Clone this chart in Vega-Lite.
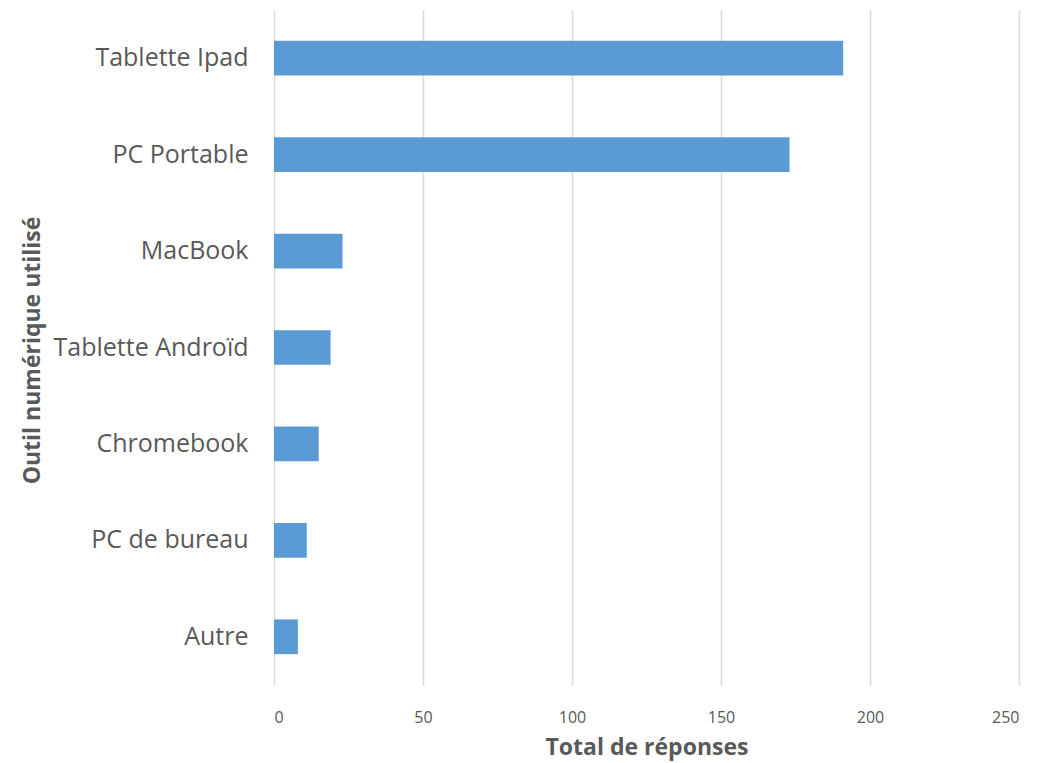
{
  "$schema": "https://vega.github.io/schema/vega-lite/v6.json",
  "width": 745,
  "height": 675,
  "autosize": "none",
  "padding": {"left": 274, "top": 10, "right": 35, "bottom": 78},
  "background": "white",
  "config": {"view": {"stroke": null}, "font": "Open Sans"},
  "data": {"values": [
    {"outil": "Tablette Ipad", "total": 191},
    {"outil": "PC Portable", "total": 173},
    {"outil": "MacBook", "total": 23},
    {"outil": "Tablette Androïd", "total": 19},
    {"outil": "Chromebook", "total": 15},
    {"outil": "PC de bureau", "total": 11},
    {"outil": "Autre", "total": 8}
  ]},
  "mark": {"type": "bar", "color": "#5B9BD5"},
  "encoding": {
    "y": {
      "field": "outil", "type": "nominal", "sort": null,
      "scale": {"paddingInner": 0.64, "paddingOuter": 0.32},
      "axis": {
        "title": "Outil numérique utilisé",
        "titleFont": "Open Sans", "titleFontSize": 23, "titleFontWeight": "bold", "titleColor": "#595959",
        "titleX": -242, "titleY": 340, "titleAngle": 270, "titleAlign": "center", "titleBaseline": "middle",
        "labelFont": "Open Sans", "labelFontSize": 25, "labelColor": "#595959", "labelPadding": 26,
        "labelLimit": 300,
        "domain": false, "ticks": false, "grid": false
      }
    },
    "x": {
      "field": "total", "type": "quantitative",
      "scale": {"domain": [0, 250]},
      "axis": {
        "title": "Total de réponses",
        "values": [0, 50, 100, 150, 200, 250],
        "titleFont": "Open Sans", "titleFontSize": 23, "titleFontWeight": "bold", "titleColor": "#595959",
        "titleY": 62, "titleBaseline": "middle",
        "labelFont": "Open Sans", "labelFontSize": 16, "labelColor": "#595959", "labelPadding": 32,
        "labelBaseline": "middle",
        "domain": false, "ticks": false,
        "grid": true, "gridColor": "#D9D9D9", "gridWidth": 1.5
      }
    }
  }
}
